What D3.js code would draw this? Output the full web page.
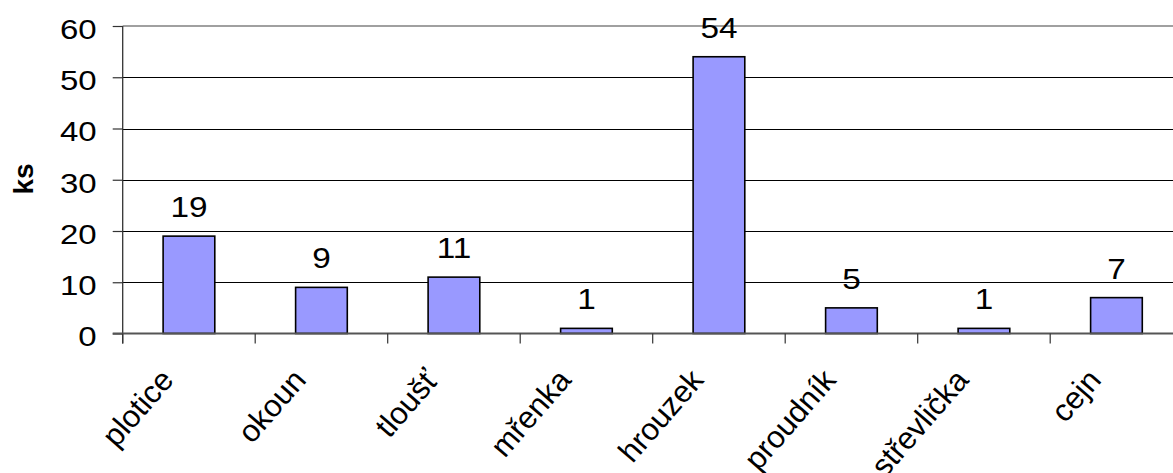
<!DOCTYPE html>
<html>
<head>
<meta charset="utf-8">
<script src="https://cdn.jsdelivr.net/npm/d3@7"></script>
<style>
  html, body { margin: 0; padding: 0; background: #fff; }
  svg { display: block; }
  text { font-family: "Liberation Sans", Arial, sans-serif; fill: #000; }
</style>
</head>
<body>
<svg id="chart" width="1173" height="473"></svg>
<script>
// Fish catch by species (pieces)
const species = ["plotice", "okoun", "tloušť", "mřenka", "hrouzek", "proudník", "střevlička", "cejn"];
const counts = [19, 9, 11, 1, 54, 5, 1, 7];
const yTicks = [0, 10, 20, 30, 40, 50, 60];
const yTitle = "ks";

(function () {
  const svg = d3.select("#chart");
  const plotLeft = 122.7, plotTop = 26, plotBottom = 333.5;
  const band = 132.5;
  const plotRight = plotLeft + band * species.length;

  const x = d3.scaleBand().domain(species).range([plotLeft, plotRight]).paddingInner(0.61).paddingOuter(0.305);
  const y = d3.scaleLinear().domain([0, 60]).range([plotBottom, plotTop]);

  // horizontal gridlines
  svg.append("g").selectAll("line")
    .data(yTicks.filter(d => d > 0 && d < 60))
    .join("line")
    .attr("x1", plotLeft).attr("x2", 1173)
    .attr("y1", d => Math.round(y(d)) + 0.5).attr("y2", d => Math.round(y(d)) + 0.5)
    .attr("stroke", "#000").attr("stroke-width", 1);

  // plot area top border
  svg.append("line")
    .attr("x1", plotLeft).attr("x2", 1173)
    .attr("y1", y(60)).attr("y2", y(60))
    .attr("stroke", "#a0a0a0").attr("stroke-width", 2);

  // y axis
  const yAxis = d3.axisLeft(y).tickValues(yTicks).tickSize(10).tickPadding(16);
  const gy = svg.append("g").attr("transform", `translate(${plotLeft},0)`).call(yAxis);
  gy.select(".domain").attr("d", `M0,${plotTop}V${plotBottom + 10}`).attr("stroke", "#333").attr("stroke-width", 1.3);
  gy.selectAll(".tick line").attr("stroke", "#333").attr("stroke-width", 1.2);
  gy.selectAll(".tick text")
    .attr("x", 0).attr("dy", "0.45em")
    .attr("transform", "translate(-26,0) scale(1.2,1)")
    .attr("font-size", 27.5)
    .attr("font-family", "Liberation Sans, Arial, sans-serif")
    .attr("fill", "#000");

  // bars
  svg.append("g").selectAll("rect")
    .data(counts)
    .join("rect")
    .attr("x", (d, i) => x(species[i]))
    .attr("y", d => y(d))
    .attr("width", x.bandwidth())
    .attr("height", d => y(0) - y(d))
    .attr("fill", "#9999ff")
    .attr("stroke", "#000")
    .attr("stroke-width", 1.6);

  // x axis baseline and category ticks
  svg.append("line")
    .attr("x1", plotLeft - 10).attr("x2", 1173)
    .attr("y1", plotBottom).attr("y2", plotBottom)
    .attr("stroke", "#555").attr("stroke-width", 2);
  const bounds = d3.range(species.length + 1).map(i => plotLeft + i * band);
  svg.append("g").selectAll("line")
    .data(bounds)
    .join("line")
    .attr("x1", d => d).attr("x2", d => d)
    .attr("y1", plotBottom).attr("y2", plotBottom + 10)
    .attr("stroke", "#333").attr("stroke-width", 1.2);

  // category labels, slanted
  svg.append("g").selectAll("text")
    .data(species)
    .join("text")
    .attr("transform", d => `translate(${x(d) + x.bandwidth() / 2 - 14},381) rotate(-49)`)
    .attr("text-anchor", "end")
    .attr("font-size", 31)
    .text(d => d);

  // value labels
  svg.append("g").selectAll("text")
    .data(counts)
    .join("text")
    .attr("transform", (d, i) => `translate(${x(species[i]) + x.bandwidth() / 2},${y(d) - 19}) scale(1.13,1)`)
    .attr("text-anchor", "middle")
    .attr("font-size", 29.5)
    .text(d => d);

  // y title
  svg.append("text")
    .attr("transform", "translate(33,179) rotate(-90)")
    .attr("text-anchor", "middle")
    .attr("font-size", 28)
    .attr("font-weight", "bold")
    .text(yTitle);
})();
</script>
</body>
</html>
